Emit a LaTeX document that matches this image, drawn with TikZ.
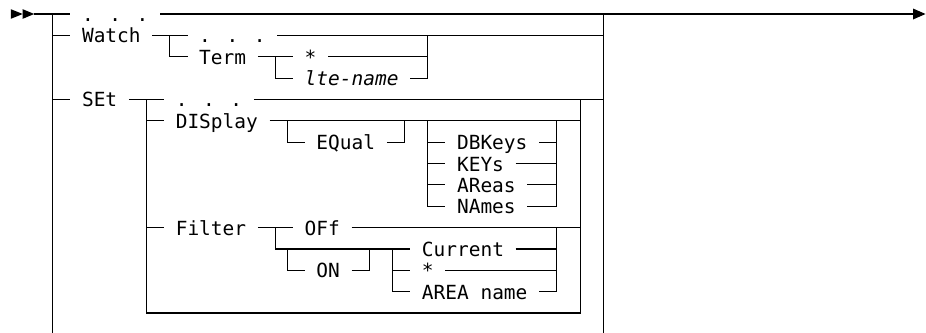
\documentclass[tikz,border=0pt]{standalone}
\usepackage{fontspec}
\newfontfamily\rrfont{DejaVu Sans Mono}
\newcommand\rrJ[2]{\coordinate (j#1r#2) at (#1+0.5,#2);}
\begin{document}
\begin{tikzpicture}[x=11.72pt, y=-21.36pt,
  lbl/.style={anchor=west, inner xsep=11.72pt, inner ysep=0pt, outer sep=0pt,
    text height=15pt, text depth=0pt, font=\rrfont\fontsize{19.47pt}{22pt}\selectfont},
  ital/.style={lbl, font=\rrfont\fontsize{19.47pt}{22pt}\selectfont\itshape},
  rail/.style={draw=black, line width=1.1pt},
  tip/.style={fill=black, draw=none}]
\useasboundingbox (0pt,0pt) rectangle (926pt,-332pt);
\begin{scope}[yshift=-14pt]
% ---------- text nodes ----------
\node[lbl] (t0) at (6,0) {. . .};
\node[lbl] (watch) at (6,1) {Watch};
\node[lbl] (t1) at (16,1) {. . .};
\node[lbl] (term) at (16,2) {Term};
\node[lbl] (star1) at (25,2) {*};
\node[ital] (lte) at (25,3) {lte-name};
\node[lbl] (set) at (6,4) {SEt};
\node[lbl] (t4) at (14,4) {. . .};
\node[lbl] (disp) at (14,5) {DISplay};
\node[lbl] (equal) at (26,6) {EQual};
\node[lbl] (dbk) at (38,6) {DBKeys};
\node[lbl] (keys) at (38,7) {KEYs};
\node[lbl] (areas) at (38,8) {AReas};
\node[lbl] (names) at (38,9) {NAmes};
\node[lbl] (filter) at (14,10) {Filter};
\node[lbl] (off) at (25,10) {OFf};
\node[lbl] (cur) at (35,11) {Current};
\node[lbl] (on) at (26,12) {ON};
\node[lbl] (star2) at (35,12) {*};
\node[lbl] (area) at (35,13) {AREA name};
% ---------- junction coordinates ----------
\coordinate (s0) at (2.9,0);
\coordinate (e0) at (77.9,0);
\coordinate (a1) at (0.92,0);
\coordinate (a2) at (1.94,0);
\coordinate (a3) at (2.92,0);
\coordinate (a4) at (78.97,0);
\rrJ{4}{0}\rrJ{51}{0}\rrJ{4}{1}\rrJ{51}{1}\rrJ{14}{1}\rrJ{14}{2}\rrJ{36}{1}
\rrJ{36}{2}\rrJ{23}{2}\rrJ{23}{3}\rrJ{36}{3}
\rrJ{4}{4}\rrJ{51}{4}\rrJ{12}{4}\rrJ{12}{14}\rrJ{49}{14}\rrJ{49}{4}
\rrJ{12}{5}\rrJ{49}{5}\rrJ{24}{5}\rrJ{24}{6}\rrJ{34}{6}\rrJ{34}{5}
\rrJ{36}{5}\rrJ{36}{6}\rrJ{36}{7}\rrJ{36}{8}\rrJ{36}{9}
\rrJ{47}{5}\rrJ{47}{6}\rrJ{47}{7}\rrJ{47}{8}\rrJ{47}{9}
\rrJ{12}{10}\rrJ{49}{10}\rrJ{23}{10}\rrJ{23}{11}\rrJ{47}{10}\rrJ{47}{11}
\rrJ{24}{11}\rrJ{24}{12}\rrJ{31}{11}\rrJ{31}{12}\rrJ{33}{11}\rrJ{33}{12}\rrJ{33}{13}
\rrJ{47}{12}\rrJ{47}{13}
\coordinate (j4b) at (4.5,15.2);
\coordinate (j51b) at (51.5,15.2);
% ---------- arrows ----------
\fill[tip] ([yshift=4.8pt]a1) -- ([yshift=-4.8pt]a1) -- (a2) -- cycle;
\fill[tip] ([yshift=4.8pt]a2) -- ([yshift=-4.8pt]a2) -- (a3) -- cycle;
\fill[tip] ([yshift=5.5pt]e0) -- ([yshift=-5.5pt]e0) -- (a4) -- cycle;
% ---------- main line ----------
\draw[rail] (s0) -- (t0.west);
\draw[rail] (t0.east) -- (e0);
\draw[rail] (j4r0) -- (j4b);
\draw[rail] (j51r0) -- (j51b);
% ---------- Watch ----------
\draw[rail] (j4r1) -- (watch.west);
\draw[rail] (watch.east) -- (t1.west);
\draw[rail] (t1.east) -- (j51r1);
\draw[rail] (j14r1) -- (j14r2) -- (term.west);
\draw[rail] (term.east) -- (star1.west);
\draw[rail] (star1.east) -- (j36r2);
\draw[rail] (j23r2) -- (j23r3) -- (lte.west);
\draw[rail] (lte.east) -- (j36r3) -- (j36r1);
% ---------- SEt ----------
\draw[rail] (j4r4) -- (set.west);
\draw[rail] (set.east) -- (t4.west);
\draw[rail] (t4.east) -- (j51r4);
\draw[rail] (j12r4) -- (j12r14) -- (j49r14) -- (j49r4);
% ---------- DISplay ----------
\draw[rail] (j12r5) -- (disp.west);
\draw[rail] (disp.east) -- (j49r5);
\draw[rail] (j24r5) -- (j24r6) -- (equal.west);
\draw[rail] (equal.east) -- (j34r6) -- (j34r5);
\draw[rail] (j36r5) -- (j36r9) -- (names.west);
\draw[rail] (names.east) -- (j47r9) -- (j47r5);
\draw[rail] (j36r6) -- (dbk.west);
\draw[rail] (dbk.east) -- (j47r6);
\draw[rail] (j36r7) -- (keys.west);
\draw[rail] (keys.east) -- (j47r7);
\draw[rail] (j36r8) -- (areas.west);
\draw[rail] (areas.east) -- (j47r8);
% ---------- Filter ----------
\draw[rail] (j12r10) -- (filter.west);
\draw[rail] (filter.east) -- (off.west);
\draw[rail] (off.east) -- (j49r10);
\draw[rail] (j23r10) -- (j23r11) -- (cur.west);
\draw[rail] (cur.east) -- (j47r11);
\draw[rail] (j24r11) -- (j24r12) -- (on.west);
\draw[rail] (on.east) -- (j31r12) -- (j31r11);
\draw[rail] (j33r11) -- (j33r13) -- (area.west);
\draw[rail] (area.east) -- (j47r13) -- (j47r10);
\draw[rail] (j33r12) -- (star2.west);
\draw[rail] (star2.east) -- (j47r12);
\end{scope}
\end{tikzpicture}
\end{document}
